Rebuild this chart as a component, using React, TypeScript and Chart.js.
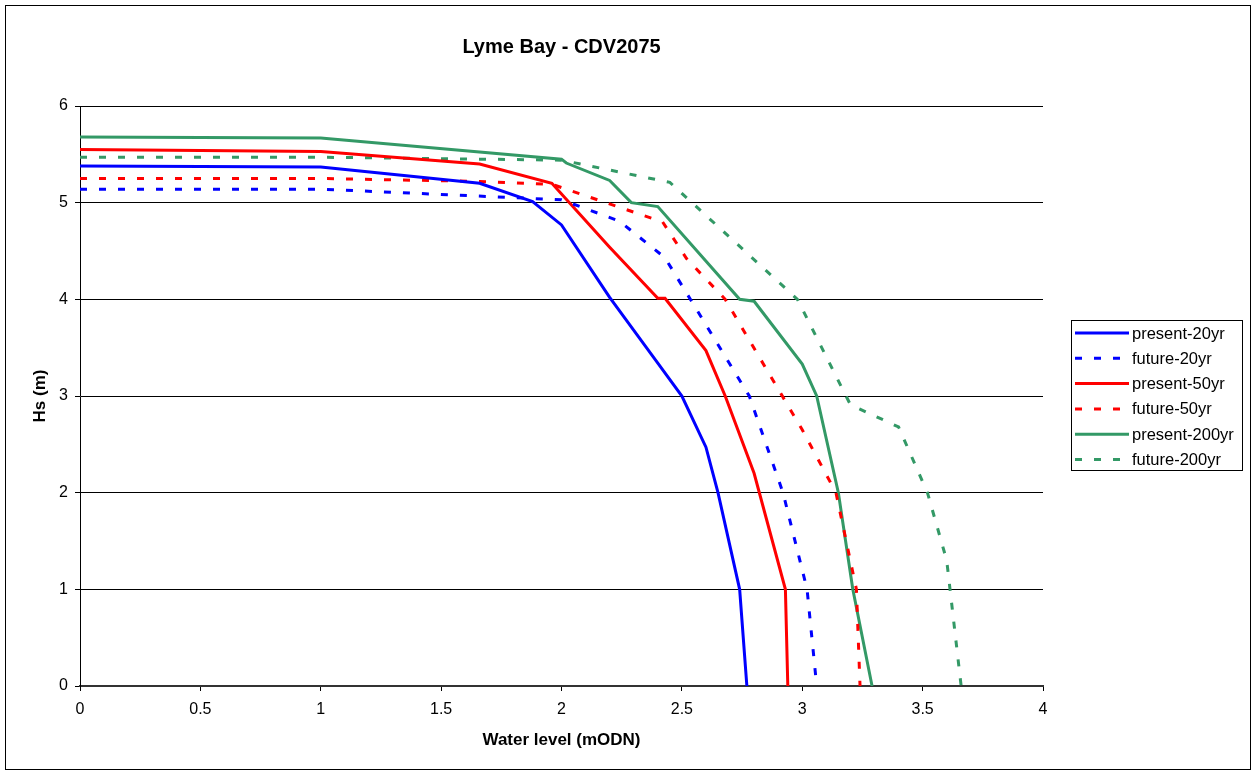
import React, { useEffect, useRef } from "react";
import { Chart, registerables } from "chart.js";

Chart.register(...registerables);

const chartTitle = "Lyme Bay - CDV2075";
const xAxisTitle = "Water level (mODN)";
const yAxisTitle = "Hs (m)";

const seriesNames = ["present-20yr", "future-20yr", "present-50yr", "future-50yr", "present-200yr", "future-200yr"];

const present20X = [0, 1, 1.66, 1.88, 2.0, 2.2, 2.4, 2.5, 2.6, 2.65, 2.74, 2.77];
const present20Y = [5.38, 5.37, 5.2, 5.01, 4.77, 4.02, 3.34, 3.0, 2.47, 2.0, 1.0, 0];

const future20X = [0, 1, 2.0, 2.24, 2.43, 2.78, 2.92, 3.02, 3.06];
const future20Y = [5.14, 5.14, 5.03, 4.81, 4.43, 3.0, 2.0, 1.0, 0];

const present50X = [0, 1, 1.66, 1.96, 2.2, 2.4, 2.43, 2.6, 2.68, 2.8, 2.93, 2.94];
const present50Y = [5.55, 5.53, 5.4, 5.2, 4.54, 4.01, 4.01, 3.47, 3.0, 2.2, 1.0, 0];

const future50X = [0, 1, 1.66, 1.96, 2.42, 2.52, 2.68, 3.0, 3.14, 3.225, 3.24];
const future50Y = [5.25, 5.25, 5.22, 5.19, 4.8, 4.42, 4.0, 2.65, 2.0, 1.0, 0];

const present200X = [0, 1, 2.0, 2.02, 2.2, 2.29, 2.4, 2.74, 2.8, 3.0, 3.06, 3.15, 3.21, 3.29];
const present200Y = [5.68, 5.67, 5.45, 5.41, 5.23, 5.0, 4.96, 4.0, 3.98, 3.33, 3.0, 2.0, 1.0, 0];

const future200X = [0, 1, 2.0, 2.45, 2.98, 3.2, 3.4, 3.52, 3.6, 3.66];
const future200Y = [5.47, 5.47, 5.44, 5.21, 4.0, 2.91, 2.68, 2.0, 1.3, 0];

const seriesColors = ["#0000FF", "#0000FF", "#FF0000", "#FF0000", "#339966", "#339966"];
const seriesDashed = [false, true, false, true, false, true];

const FONT = "'Liberation Sans', Arial, sans-serif";
const DASH = [7, 12];

function pts(xs: number[], ys: number[]) {
  return xs.map((x, i) => ({ x, y: ys[i] }));
}

const framePlugin = {
  id: "frameAndLegend",
  beforeDraw(chart: any) {
    const ctx = chart.ctx;
    ctx.save();
    ctx.fillStyle = "#ffffff";
    ctx.fillRect(0, 0, chart.width, chart.height);
    ctx.restore();
  },
  afterDraw(chart: any) {
    const ctx = chart.ctx;
    const area = chart.chartArea;
    ctx.save();
    ctx.strokeStyle = "#000000";
    ctx.lineWidth = 1;
    ctx.setLineDash([]);
    ctx.strokeRect(5.5, 5.5, 1245, 764);
    ctx.fillStyle = "#000000";
    ctx.font = `bold 20px ${FONT}`;
    ctx.textAlign = "center";
    ctx.textBaseline = "alphabetic";
    ctx.fillText(chartTitle, (area.left + area.right) / 2, 53);
    const lx = 1071.5, ly = 320.5, lw = 171, lh = 150;
    ctx.fillStyle = "#ffffff";
    ctx.fillRect(lx, ly, lw, lh);
    ctx.strokeStyle = "#000000";
    ctx.lineWidth = 1;
    ctx.strokeRect(lx, ly, lw, lh);
    chart.data.datasets.forEach((ds: any, i: number) => {
      const y = 333 + i * 25.3;
      ctx.beginPath();
      ctx.strokeStyle = ds.borderColor;
      ctx.lineWidth = ds.borderWidth;
      ctx.setLineDash(ds.borderDash || []);
      ctx.lineCap = "butt";
      ctx.moveTo(1075, y);
      ctx.lineTo(1129, y);
      ctx.stroke();
      ctx.setLineDash([]);
      ctx.fillStyle = "#000000";
      ctx.font = `16.5px ${FONT}`;
      ctx.textAlign = "left";
      ctx.textBaseline = "middle";
      ctx.fillText(ds.label, 1132, y + 1);
    });
    ctx.restore();
  },
};

export default function App() {
  const ref = useRef<HTMLCanvasElement | null>(null);
  useEffect(() => {
    if (!ref.current) return;
    const xs = [present20X, future20X, present50X, future50X, present200X, future200X];
    const ys = [present20Y, future20Y, present50Y, future50Y, present200Y, future200Y];
    const datasets = seriesNames.map((name, i) => ({
      label: name,
      data: pts(xs[i], ys[i]),
      showLine: true,
      borderColor: seriesColors[i],
      backgroundColor: seriesColors[i],
      borderWidth: 3,
      borderDash: seriesDashed[i] ? DASH : [],
      borderCapStyle: "butt",
      borderJoinStyle: "miter",
      pointRadius: 0,
      pointHoverRadius: 0,
      tension: 0,
    }));
    const chart = new Chart(ref.current, {
      type: "scatter",
      data: { datasets } as any,
      options: {
        responsive: false,
        animation: false,
        devicePixelRatio: 1,
        layout: { padding: { left: 0, top: 106, right: 212, bottom: 0 } },
        plugins: {
          legend: { display: false },
          title: { display: false },
          tooltip: { enabled: false },
        },
        scales: {
          x: {
            type: "linear",
            min: 0,
            max: 4,
            afterFit: (s: any) => { s.height = 88; },
            ticks: {
              stepSize: 0.5,
              color: "#000000",
              font: { family: FONT, size: 16 },
              padding: 9,
              maxRotation: 0,
              autoSkip: false,
              callback: (v: any) => String(Number(v)),
            },
            grid: {
              drawOnChartArea: false,
              drawTicks: true,
              tickLength: 5,
              tickColor: "#000000",
            },
            border: { display: true, color: "#333333", width: 2 },
            title: {
              display: true,
              text: xAxisTitle,
              color: "#000000",
              font: { family: FONT, size: 17, weight: "bold" },
              padding: { top: 0, bottom: 23 },
            },
          },
          y: {
            type: "linear",
            min: 0,
            max: 6,
            afterFit: (s: any) => { s.width = 80; },
            ticks: {
              stepSize: 1,
              color: "#000000",
              font: { family: FONT, size: 16 },
              padding: 7,
              callback: (v: any) => String(Number(v)),
            },
            grid: {
              drawOnChartArea: true,
              color: "#000000",
              lineWidth: 1,
              drawTicks: true,
              tickLength: 5,
              tickColor: "#000000",
            },
            border: { display: true, color: "#000000", width: 1 },
            title: {
              display: true,
              text: yAxisTitle,
              color: "#000000",
              font: { family: FONT, size: 17, weight: "bold" },
              padding: { top: 30, bottom: 0 },
            },
          },
        },
      } as any,
      plugins: [framePlugin],
    });
    return () => chart.destroy();
  }, []);
  return (
    <div style={{ position: "fixed", left: 0, top: 0, width: 1255, height: 774, background: "#fff" }}>
      <canvas ref={ref} width={1255} height={774} style={{ display: "block", width: 1255, height: 774 }} />
    </div>
  );
}
